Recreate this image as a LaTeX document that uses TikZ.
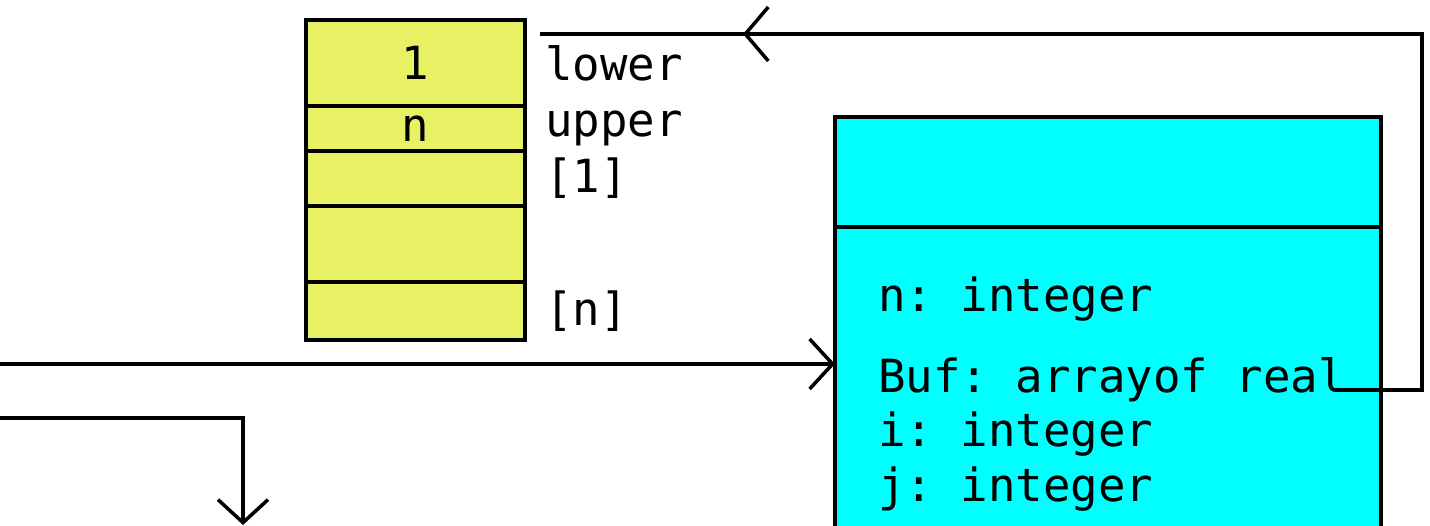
\documentclass[tikz,border=0pt]{standalone}
\usepackage{fontspec}
\setmonofont{DejaVu Sans Mono}
\usepackage{tikz}
\usetikzlibrary{arrows.meta, positioning, decorations.markings}
\definecolor{gelb}{HTML}{E8F064}
\definecolor{tuerkis}{HTML}{00FFFF}

\begin{document}
\begin{tikzpicture}[
    cell/.style={draw, line width=2pt, fill=gelb, minimum width=4.38cm,
                 inner sep=0pt, outer sep=0pt, font=\ttfamily\fontsize{26}{30}\selectfont},
    klasse/.style={draw, line width=2pt, fill=tuerkis, minimum width=10.92cm,
                   inner sep=0pt, outer sep=0pt},
    txt/.style={font=\ttfamily\fontsize{26}{30}\selectfont, inner sep=0pt},
    arr/.style={-{Straight Barb[length=0.46cm, width=1.0cm]}, line width=2pt},
    midarr/.style={line width=2pt, postaction={decorate}, decoration={markings,
        mark=at position #1 with {\arrow{Straight Barb[length=0.46cm, width=1.08cm]}}}},
    node distance=0.4cm
  ]
  \useasboundingbox (0,0) rectangle (28.6,-10.5);
  \clip (0,0) rectangle (28.6,-10.5);

  % Feld von oben nach unten
  \node[cell, minimum height=1.72cm, anchor=north west] (r1) at (6.12,-0.4) {1};
  \node[cell, minimum height=0.9cm, below=0pt of r1]  (r2) {n};
  \node[cell, minimum height=1.1cm, below=0pt of r2]  (r3) {};
  \node[cell, minimum height=1.52cm, below=0pt of r3] (r4) {};
  \node[cell, minimum height=1.16cm, below=0pt of r4] (r5) {};

  \node[txt, right=of r1] (lower) {lower};
  \node[txt, right=of r2] (upper) {upper};
  \node[txt, right=of r3] (first) {[1]};
  \node[txt, right=of r5] (last)  {[n]};

  % Klasse
  \node[klasse, minimum height=2.2cm, anchor=north west] (head) at (16.7,-2.34) {};
  \node[klasse, minimum height=7cm, below=0pt of head] (body) {};

  \node[txt, anchor=base west] (an)   at (17.56,-6.22)  {n: integer};
  \node[txt, anchor=base west] (abuf) at (17.56,-7.84)  {Buf: arrayof real};
  \node[txt, anchor=base west] (ai)   at (17.56,-8.92)  {i: integer};
  \node[txt, anchor=base west] (aj)   at (17.56,-10.02) {j: integer};

  % Pfeile
  \coordinate (bufend) at (26.7,-7.8);
  \coordinate (ecke)   at (28.44,-0.68);
  \coordinate (oben)   at (10.8,-0.68);
  \draw[midarr=-4.06cm] (bufend) -| (ecke) -- (oben);

  \coordinate (einL) at (0,-7.28);
  \draw[arr] (einL) -- (einL -| body.west);

  \coordinate (ausL) at (0,-8.36);
  \coordinate (ausE) at (4.86,-10.5);
  \draw[arr] (ausL) -| (ausE);
\end{tikzpicture}
\end{document}
